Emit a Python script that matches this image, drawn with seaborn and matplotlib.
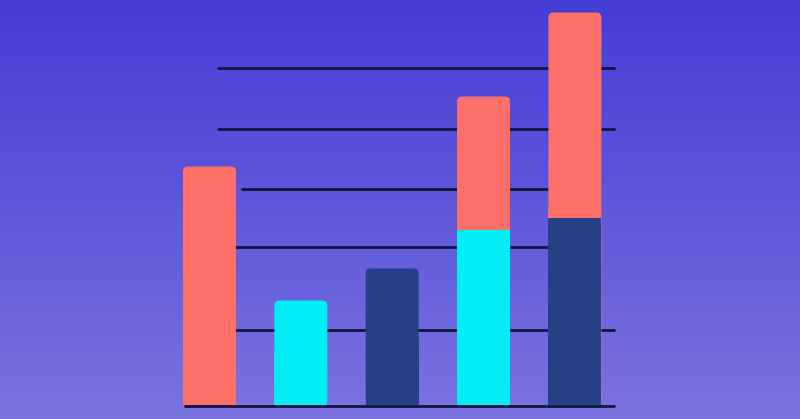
import numpy as np
import pandas as pd
import seaborn as sns
import matplotlib.pyplot as plt
from matplotlib.patches import FancyBboxPatch
from matplotlib.colors import LinearSegmentedColormap

# bar values (stacked: coral sits on top of cyan / navy)
categories = ["A", "B", "C", "D", "E"]
coral_vals = [59.5, 0, 0, 33.5, 51.5]
cyan_vals = [0, 26, 0, 43.5, 0]
navy_vals = [0, 0, 34, 0, 46.5]

# horizontal guide lines: level and (start, end) in category units
grid_levels = [-0.3, 18.75, 39.25, 53.75, 68.75, 84.0]
grid_spans = [(-0.268, 4.428), (-0.268, 4.428), (-0.268, 3.782),
              (0.356, 3.706), (0.093, 4.428), (0.093, 4.428)]

CORAL = "#fe6f6a"
CYAN = "#00eef5"
NAVY = "#263f85"
LINE = "#0c1740"

df = pd.DataFrame({"cat": categories, "coral": coral_vals,
                   "cyan": cyan_vals, "navy": navy_vals})
df["total"] = df[["coral", "cyan", "navy"]].sum(axis=1)
df["lower"] = np.where(df["coral"] > 0, df["cyan"] + df["navy"], 0)
top_color = {r.cat: CORAL if r.coral > 0 else (CYAN if r.cyan > 0 else NAVY)
             for r in df.itertuples()}
low_color = {r.cat: CYAN if r.cyan > 0 else NAVY for r in df.itertuples()}

fig = plt.figure(figsize=(8, 4.19), dpi=100)
ax = fig.add_axes([0, 0, 1, 1])
xlim = (-2.293, 6.464)
ylim = (-3.625, 101.125)

# background gradient
bg = LinearSegmentedColormap.from_list("bg", ["#7a74e1", "#5f58db", "#443dd6"])
ax.imshow(np.linspace(0, 1, 256).reshape(-1, 1), cmap=bg, origin="lower",
          extent=[xlim[0], xlim[1], ylim[0], ylim[1]], aspect="auto", zorder=0)

for lvl, (x0, x1) in zip(grid_levels, grid_spans):
    ax.plot([x0, x1], [lvl, lvl], color=LINE, lw=2.0,
            solid_capstyle="round", zorder=2)

sns.barplot(data=df, x="cat", y="total", hue="cat", palette=top_color,
            width=0.58, saturation=1, legend=False, linewidth=0, ax=ax, zorder=3)

# round the top corners
px_x = 1 / 91.35
px_y = 0.25
for p in list(ax.patches):
    h = p.get_height()
    if h <= 0:
        continue
    x, y, w = p.get_x(), p.get_y(), p.get_width()
    rb = FancyBboxPatch((x, y), w, h,
                        boxstyle=f"round,pad=0,rounding_size={5 * px_x}",
                        mutation_aspect=px_y / px_x,
                        fc=p.get_facecolor(), lw=0, zorder=3)
    ax.add_patch(rb)
    p.set_height(h / 2)

sns.barplot(data=df, x="cat", y="lower", hue="cat", palette=low_color,
            width=0.58, saturation=1, legend=False, linewidth=0, ax=ax, zorder=4)

ax.set_xlim(*xlim)
ax.set_ylim(*ylim)
ax.axis("off")

fig.savefig("out.png", dpi=100)
